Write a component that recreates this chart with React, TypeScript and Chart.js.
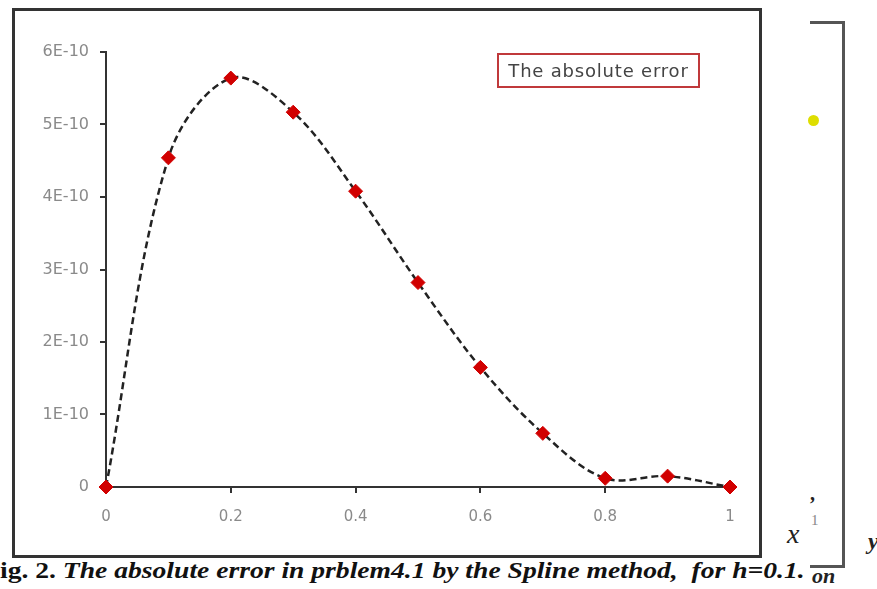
import React, { useEffect, useRef } from "react";
import { Chart, registerables } from "chart.js";

Chart.register(...registerables);

const xValues = [0, 0.1, 0.2, 0.3, 0.4, 0.5, 0.6, 0.7, 0.8, 0.9, 1];
const errorValues = [0, 4.54e-10, 5.64e-10, 5.17e-10, 4.08e-10, 2.82e-10, 1.65e-10, 0.74e-10, 0.12e-10, 0.15e-10, 0];
const seriesLabel = "The absolute error";
const captionStart = "ig. 2. ";
const captionRest = "The absolute error in prblem4.1 by the Spline method,  for h=0.1.";

function formatY(v: number): string {
  const n = Math.round(v / 1e-10);
  return n === 0 ? "0" : n + "E-10";
}

function formatX(v: number): string {
  const r = Math.round(v * 10) / 10;
  return String(r);
}

function ErrorChart() {
  const ref = useRef<HTMLCanvasElement | null>(null);
  useEffect(() => {
    if (!ref.current) return;
    const tickFont = { family: "DejaVu Sans", size: 15 };
    const chart = new Chart(ref.current, {
      type: "line",
      data: {
        datasets: [
          {
            label: seriesLabel,
            data: xValues.map((x, i) => ({ x, y: errorValues[i] })),
            borderColor: "#222",
            borderWidth: 2.5,
            borderDash: [7, 4],
            tension: 0.35,
            pointStyle: "rectRot",
            pointRadius: 7,
            pointBackgroundColor: "#d10000",
            pointBorderColor: "#d10000",
            pointBorderWidth: 1,
            clip: false as any,
            fill: false,
          },
        ],
      },
      options: {
        animation: false,
        responsive: false,
        maintainAspectRatio: false,
        layout: { padding: { left: 0, right: 29, top: 41, bottom: 0 } },
        plugins: { legend: { display: false }, tooltip: { enabled: false } },
        scales: {
          x: {
            type: "linear",
            min: 0,
            max: 1,
            ticks: { stepSize: 0.2, color: "#8a8a8a", font: tickFont, padding: 15, maxRotation: 0, callback: (v: any) => formatX(Number(v)) },
            grid: { display: true, drawOnChartArea: false, drawTicks: true, tickLength: 6, color: "#333", lineWidth: 2 },
            border: { display: true, color: "#333", width: 2 },
            afterFit: (s: any) => {
              s.height = 66;
            },
          },
          y: {
            type: "linear",
            min: 0,
            max: 6e-10,
            ticks: { stepSize: 1e-10, color: "#8a8a8a", font: { family: "DejaVu Sans", size: 16 }, padding: 11, callback: (v: any) => formatY(Number(v)) },
            grid: { display: true, drawOnChartArea: false, drawTicks: true, tickLength: 6, color: "#333", lineWidth: 2 },
            border: { display: true, color: "#333", width: 2 },
            afterFit: (s: any) => {
              s.width = 91;
            },
          },
        },
      },
    });
    return () => chart.destroy();
  }, []);
  return <canvas ref={ref} width={744} height={542} style={{ position: "absolute", left: 0, top: 0 }} />;
}

export default function App() {
  return (
    <div style={{ position: "absolute", left: 0, top: 0, width: 877, height: 589, background: "#fff", overflow: "hidden" }}>
      <div
        style={{
          position: "absolute",
          left: 12,
          top: 8,
          width: 744,
          height: 544,
          border: "3px solid #333",
        }}
      >
        <ErrorChart />
      </div>
      <div
        style={{
          position: "absolute",
          left: 497,
          top: 53,
          width: 199,
          height: 31,
          border: "2px solid #c0393b",
          color: "#444",
          font: "18px 'DejaVu Sans'",
          letterSpacing: "0.8px",
          lineHeight: "31px",
          textAlign: "center",
          whiteSpace: "nowrap",
        }}
      >
        {seriesLabel}
      </div>
      {/* neighbouring figure fragments */}
      <div style={{ position: "absolute", left: 810, top: 21, width: 32, height: 541, borderTop: "3px solid #555", borderRight: "3px solid #555", borderBottom: "3px solid #555" }} />
      <div style={{ position: "absolute", left: 808, top: 115, width: 11, height: 11, borderRadius: "50%", background: "#dede00" }} />
      <div style={{ position: "absolute", left: 810, top: 482, font: "bold 20px 'Liberation Serif'", color: "#222" }}>,</div>
      <div style={{ position: "absolute", left: 787, top: 518, font: "italic 28px 'Liberation Serif'", color: "#222" }}>x</div>
      <div style={{ position: "absolute", left: 811, top: 512, font: "15px 'Liberation Serif'", color: "#888" }}>1</div>
      <div style={{ position: "absolute", left: 868, top: 528, font: "bold italic 24px 'Liberation Serif'", color: "#222" }}>y</div>
      <div style={{ position: "absolute", left: 812, top: 563, font: "bold italic 22px 'Liberation Serif'", color: "#222" }}>on</div>
      <div
        style={{
          position: "absolute",
          left: 0,
          top: 558,
          font: "bold 23px 'Liberation Serif'",
          color: "#111",
          whiteSpace: "pre",
          transform: "scaleX(1.2)",
          transformOrigin: "0 0",
        }}
      >
        {captionStart}
        <span style={{ fontStyle: "italic" }}>{captionRest}</span>
      </div>
    </div>
  );
}
